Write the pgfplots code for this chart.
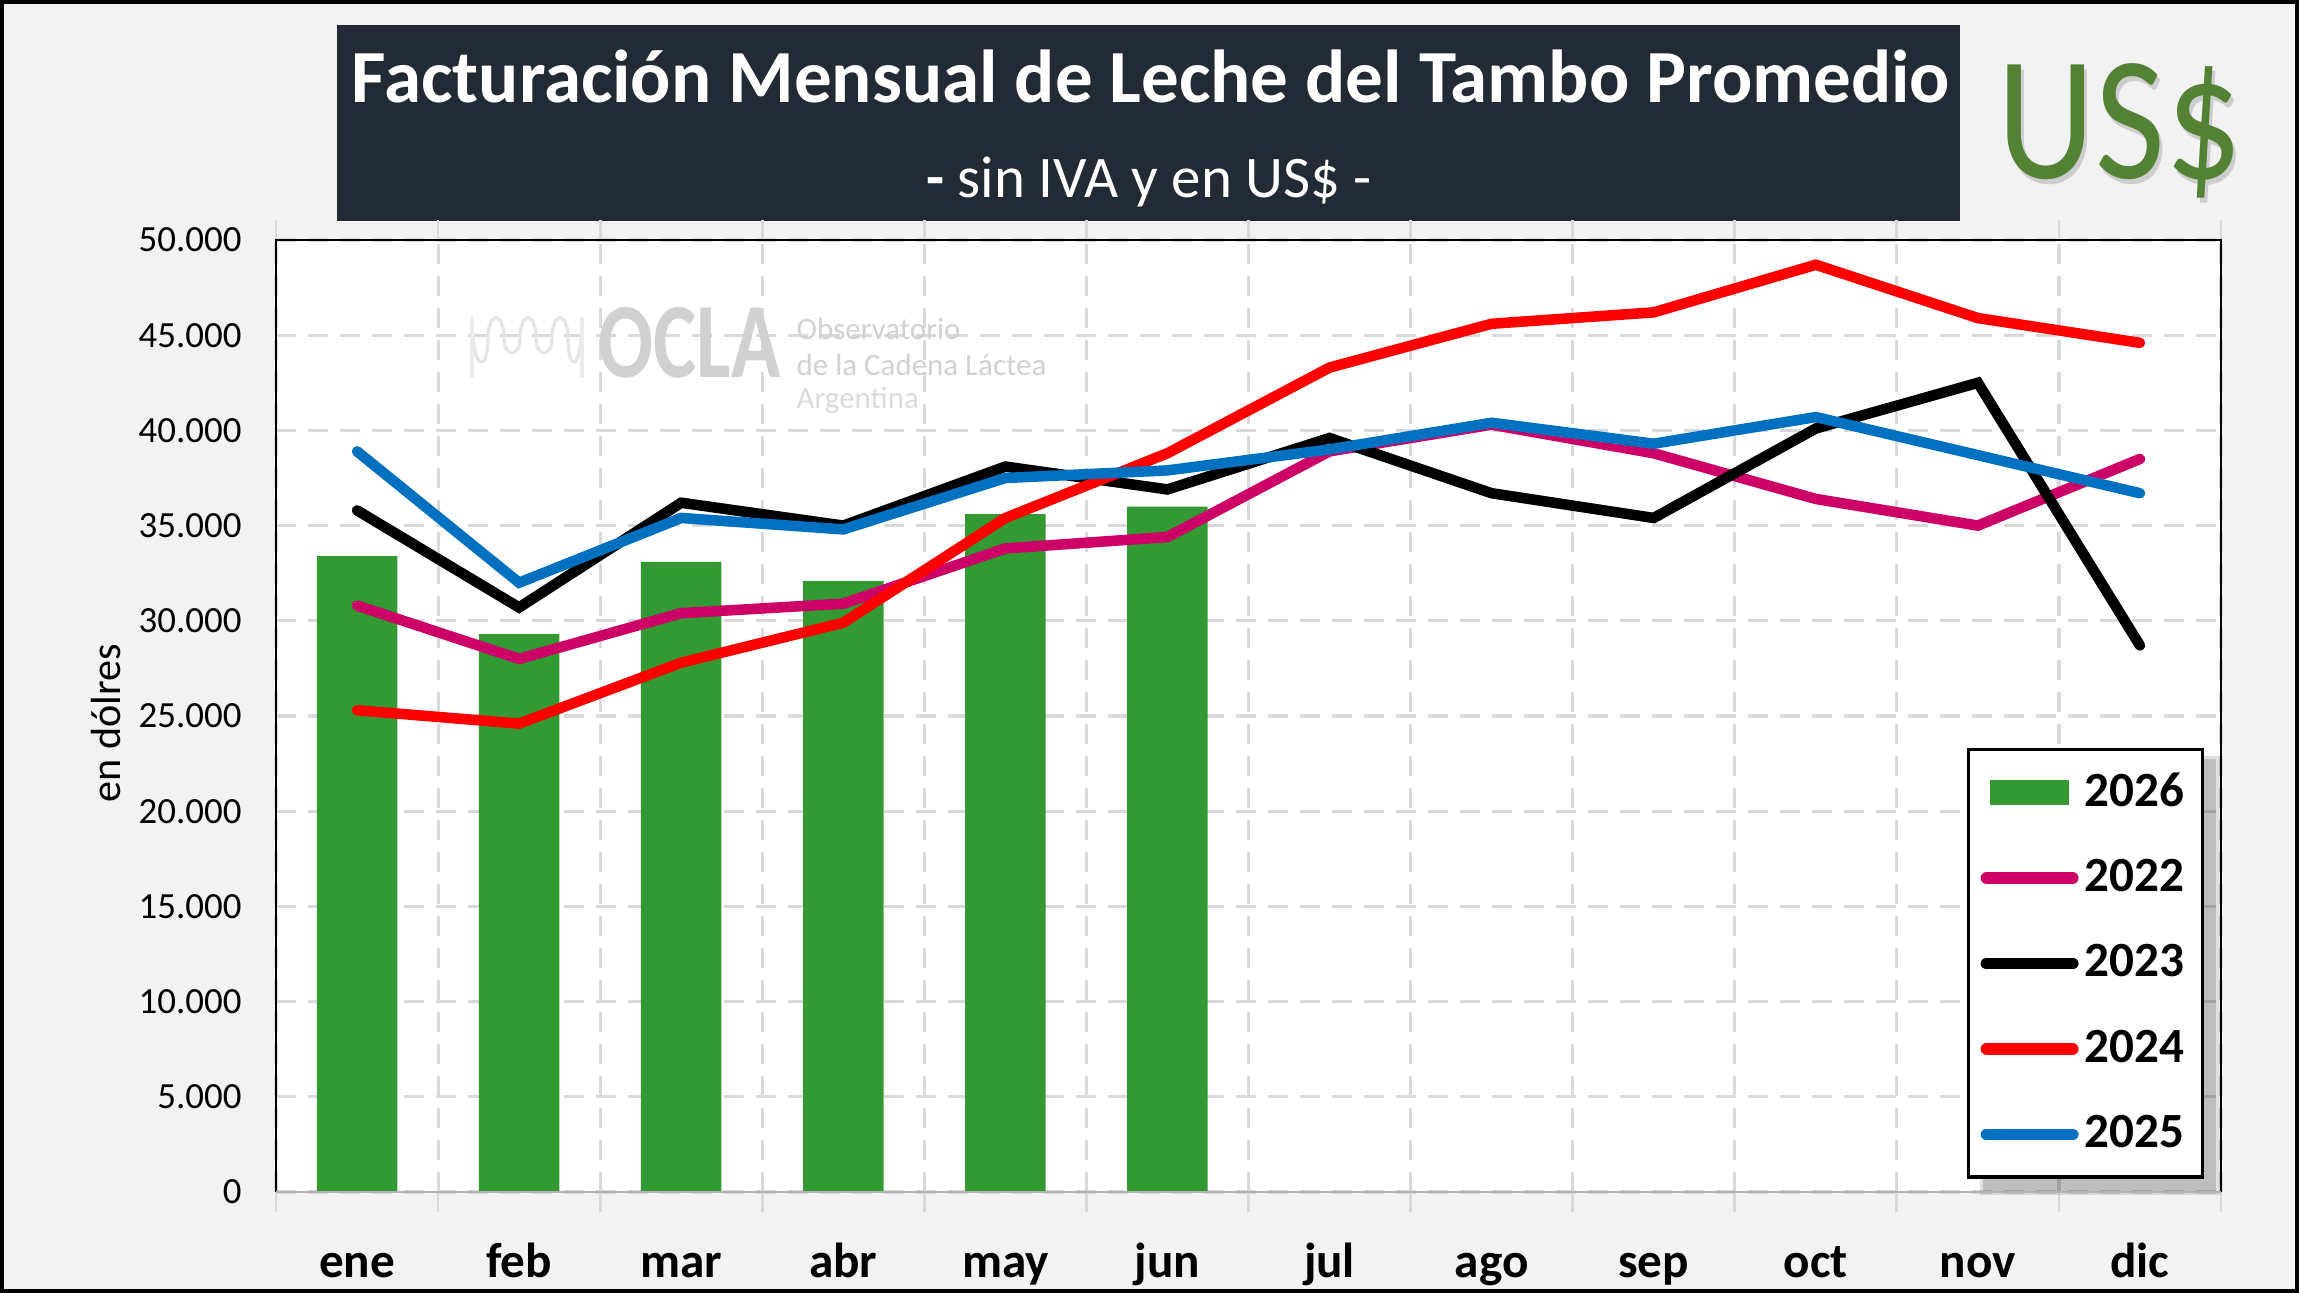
\documentclass[border=0pt]{standalone}
\usepackage{pgfplots}
\pgfplotsset{compat=1.18}
\usepackage{fontspec}
\setmainfont{Carlito}
\definecolor{bar26}{RGB}{51,153,51}
\definecolor{c22}{RGB}{204,0,102}
\definecolor{c24}{RGB}{255,0,0}
\definecolor{c25}{RGB}{0,112,192}
\definecolor{titlebg}{RGB}{34,42,53}
\definecolor{usgreen}{RGB}{84,130,53}
\definecolor{bgc}{RGB}{242,242,242}
\definecolor{gridc}{RGB}{217,217,217}
\pgfplotsset{lineleg/.style={legend image code/.code={\draw[line width=3.4pt,line cap=round] (0mm,0mm) -- (8.6mm,0mm);}}}
\begin{document}
\begin{tikzpicture}
\useasboundingbox (0,0) rectangle (229.9mm,129.3mm);
\fill[bgc] (0,0) rectangle (229.9mm,129.3mm);
\draw[black, line width=1.2pt] (0.2mm,0.2mm) rectangle (229.7mm,129.1mm);
% title box
\fill[titlebg] (33.7mm,107.2mm) rectangle (196.0mm,126.8mm);
\node[anchor=base, text=white, inner sep=0] at (115.1mm,119.0mm) {\resizebox{159.8mm}{!}{\bfseries Facturación Mensual de Leche del Tambo Promedio}};
\node[anchor=base, text=white, inner sep=0] at (114.9mm,109.5mm) {\resizebox{44.5mm}{!}{\textbf{-} sin IVA y en US\$ -}};
% US$
\node[anchor=base, inner sep=0, text=black, opacity=0.15] at (212.3mm,110.9mm) {\scalebox{0.9}[1.05]{\fontsize{48}{50}\selectfont US\$}};
\node[anchor=base, inner sep=0, text=usgreen] at (212.0mm,111.4mm) {\scalebox{0.9}[1.05]{\fontsize{48}{50}\selectfont US\$}};
% y label
\node[rotate=90, inner sep=0] at (10.6mm,57.0mm) {\fontsize{12}{14}\selectfont en dólres};
\begin{axis}[
 at={(27.6mm,10.1mm)}, anchor=south west,
 width=194.5mm, height=95.2mm, scale only axis,
 xmin=-0.5, xmax=11.5, ymin=0, ymax=50000,
 scaled y ticks=false,
 clip mode=individual,
 axis background/.style={fill=white},
 axis line style={draw=none},
 xtick={0,...,11},
 xticklabels={ene,feb,mar,abr,may,jun,jul,ago,sep,oct,nov,dic},
 minor xtick={-0.5,0.5,...,11.5},
 ytick={0,5000,...,50000},
 yticklabels={0,5.000,10.000,15.000,20.000,25.000,30.000,35.000,40.000,45.000,50.000},
 ymajorgrids, xminorgrids,
 major grid style={gridc, line width=0.9pt, dash pattern=on 2mm off 1.2mm},
 minor grid style={gridc, line width=0.9pt, dash pattern=on 2mm off 1.2mm},
 tick align=outside,
 major tick length=0pt,
 minor tick length=2mm,
 minor tick style={gridc, line width=0.8pt},
 xticklabel style={font=\fontsize{14}{14}\selectfont\bfseries, anchor=base, yshift=-8.6mm},
 yticklabel style={font=\fontsize{10.5}{12}\selectfont, anchor=east, xshift=-2.2mm},
 legend style={at={(0.9913,0.01366)}, anchor=south east, draw=black, line width=1pt, fill=white,
   font=\fontsize{14}{14}\selectfont\bfseries, row sep=0pt, inner xsep=1.2mm, inner ysep=0mm,
   nodes={minimum height=8.55mm, inner sep=0.6mm}},
 legend cell align=left,
]
\addplot[ybar, bar width=8.05mm, fill=bar26, draw=none,
  legend image code/.code={\fill[bar26] (0.3mm,-1.25mm) rectangle (8.2mm,1.25mm);}]
  coordinates {(0,33400) (1,29300) (2,33100) (3,32100) (4,35600) (5,36000)};
\addlegendentry{2026}
\addplot[c22, line width=3pt, line cap=round, lineleg]
  coordinates {(0,30800) (1,28000) (2,30400) (3,30900) (4,33800) (5,34400) (6,38900) (7,40300) (8,38800) (9,36400) (10,35000) (11,38500)};
\addlegendentry{2022}
\addplot[black, line width=3pt, line cap=round, lineleg]
  coordinates {(0,35800) (1,30700) (2,36200) (3,35000) (4,38100) (5,36900) (6,39600) (7,36700) (8,35400) (9,40100) (10,42500) (11,28700)};
\addlegendentry{2023}
\addplot[c24, line width=3pt, line cap=round, lineleg]
  coordinates {(0,25300) (1,24600) (2,27800) (3,29900) (4,35400) (5,38800) (6,43300) (7,45600) (8,46200) (9,48700) (10,45900) (11,44600)};
\addlegendentry{2024}
\addplot[c25, line width=3pt, line cap=round, lineleg]
  coordinates {(0,38900) (1,32000) (2,35400) (3,34800) (4,37500) (5,37900) (6,39000) (7,40400) (8,39300) (9,40700) (10,38700) (11,36700)};
\addlegendentry{2025}
% legend shadow
\fill[black, opacity=0.12] ([xshift=0.6mm,yshift=-0.6mm]rel axis cs:0.873,0.4638) rectangle ([xshift=1.6mm,yshift=-1.6mm]rel axis cs:0.9913,0.01366);
\fill[black, opacity=0.15] ([xshift=0.9mm,yshift=-0.9mm]rel axis cs:0.873,0.4638) rectangle ([xshift=1.2mm,yshift=-1.2mm]rel axis cs:0.9913,0.01366);
\draw[black, line width=0.8pt] (rel axis cs:0,0) -- (rel axis cs:0,1) -- (rel axis cs:1,1) -- (rel axis cs:1,0);
\draw[black!30, line width=0.8pt] (rel axis cs:0,0) -- (rel axis cs:1,0);
\end{axis}
% watermark
\draw[black!10, line width=0.9pt, line cap=round] (47.2mm,97.5mm) .. controls (47.2mm,92mm) and (48.8mm,92mm) .. (48.8mm,95.5mm)
  .. controls (48.8mm,98.2mm) and (50.4mm,98.2mm) .. (50.4mm,95.5mm)
  .. controls (50.4mm,93.5mm) and (52.0mm,93.5mm) .. (52.0mm,95.5mm)
  .. controls (52.0mm,98.2mm) and (53.6mm,98.2mm) .. (53.6mm,95.5mm)
  .. controls (53.6mm,93.5mm) and (55.2mm,93.5mm) .. (55.2mm,95.5mm)
  .. controls (55.2mm,98.2mm) and (56.8mm,98.2mm) .. (56.8mm,95.5mm)
  .. controls (56.8mm,92mm) and (58.2mm,92mm) .. (58.2mm,97.5mm);
\draw[black!8, line width=0.9pt] (47.2mm,97.5mm) -- (47.2mm,91.5mm) (58.2mm,97.5mm) -- (58.2mm,91.5mm);
\node[anchor=base west, text=black!18, inner sep=0] at (59.8mm,91.5mm) {\scalebox{0.8}[1.05]{\fontsize{29}{29}\selectfont\bfseries OCLA}};
\node[anchor=base west, text=black!18, inner sep=0] at (79.6mm,95.3mm) {\fontsize{8.8}{9}\selectfont Observatorio};
\node[anchor=base west, text=black!18, inner sep=0] at (79.6mm,91.7mm) {\fontsize{8.8}{9}\selectfont de la Cadena Láctea};
\node[anchor=base west, text=black!14, inner sep=0] at (79.6mm,88.4mm) {\fontsize{8.8}{9}\selectfont Argentina};
\end{tikzpicture}
\end{document}
